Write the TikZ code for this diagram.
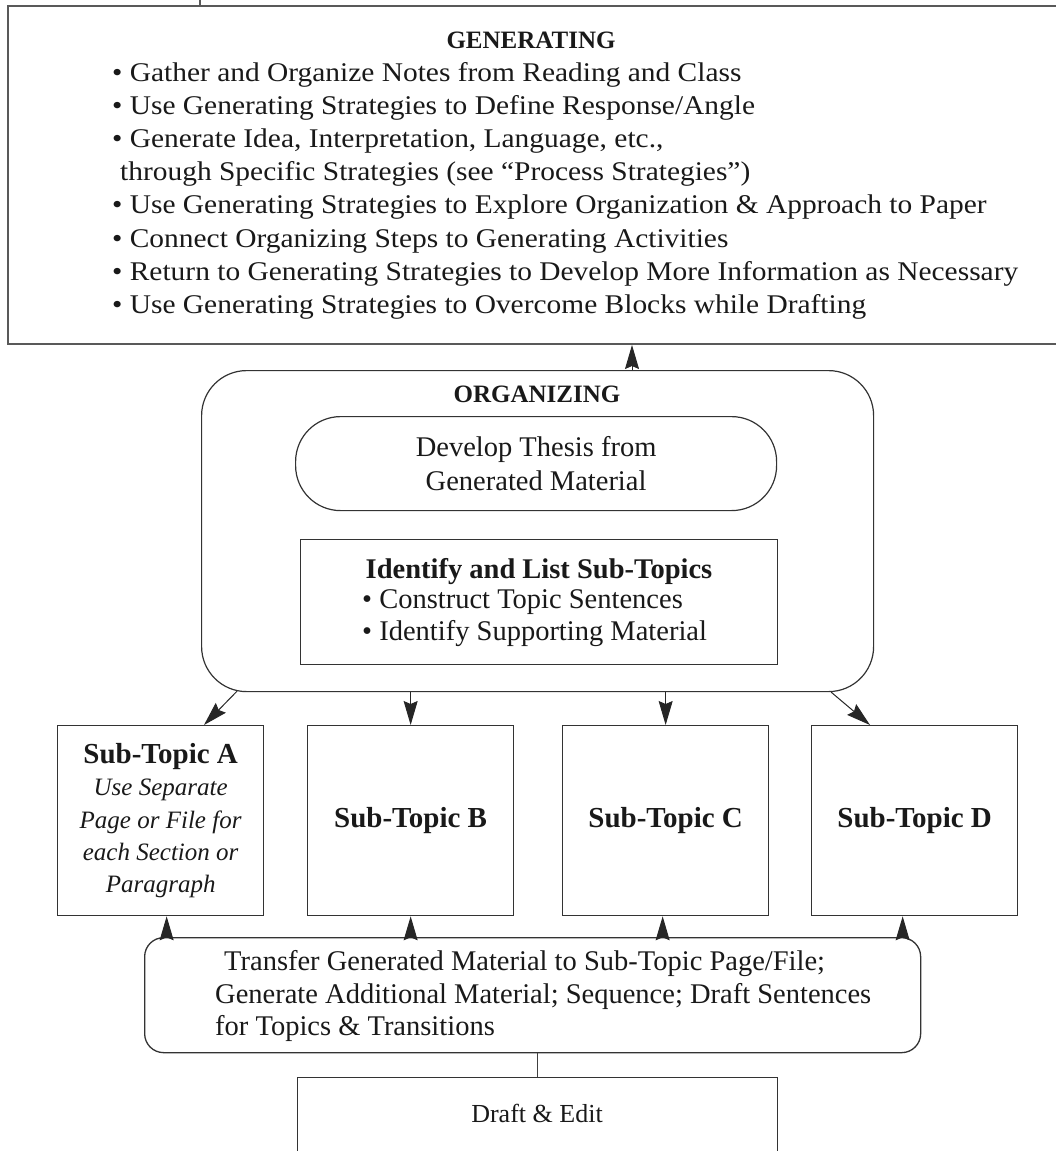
\documentclass[tikz,border=0pt]{standalone}
\usepackage{fontspec}
\setmainfont{Liberation Serif}
\newfontfamily\widefont{Liberation Serif}[FakeStretch=1.09]
\usetikzlibrary{arrows.meta,calc}
\begin{document}
\begin{tikzpicture}[x=1pt,y=-1pt,
  every node/.style={font=\fontsize{25}{33.3}\selectfont, inner sep=0pt, text=black!90},
  gtext/.style={font=\widefont\fontsize{27}{33.3}\selectfont},
  ctext/.style={font=\fontsize{28.5}{34}\selectfont},
  stext/.style={font=\fontsize{25}{32.3}\selectfont},
  box/.style={draw=black!80, line width=1.3pt},
  arr/.style={draw=black!85, line width=1pt, -{Stealth[length=24pt,width=14pt,inset=3pt]}},
  conn/.style={draw=black!75, line width=1pt},
]
\useasboundingbox (0,0) rectangle (1056,1151);

% GENERATING
\node[box, draw=black!65, line width=2pt, minimum width=1063pt, minimum height=338pt, anchor=north west] (gen) at (7,5) {};
\draw[draw=black!65, line width=1.5pt] ($(gen.north west)+(193,0)$) coordinate (tk) -- ++(0,-6);
\node[anchor=base] (gent) at (531,48) {\textbf{GENERATING}};
\node[gtext, anchor=base west] (g1) at (112,81) {• Gather and Organize Notes from Reading and Class};
\node[gtext, anchor=base west] (g2) at (112,114.2) {• Use Generating Strategies to Define Response/Angle};
\node[gtext, anchor=base west] (g3) at (112,147.4) {• Generate Idea, Interpretation, Language, etc.,};
\node[gtext, anchor=base west] (g4) at (120,180.6) {through Specific Strategies (see “Process Strategies”)};
\node[gtext, anchor=base west] (g5) at (112,213.8) {• Use Generating Strategies to Explore Organization \& Approach to Paper};
\node[gtext, anchor=base west] (g6) at (112,247) {• Connect Organizing Steps to Generating Activities};
\node[gtext, anchor=base west] (g7) at (112,280.2) {• Return to Generating Strategies to Develop More Information as Necessary};
\node[gtext, anchor=base west] (g8) at (112,313.4) {• Use Generating Strategies to Overcome Blocks while Drafting};

% ORGANIZING
\node[box, line width=1.2pt, rounded corners=45pt, minimum width=672pt, minimum height=321pt, anchor=north west] (org) at (201,370) {};
\node[anchor=base] (orgt) at (537,402) {\textbf{ORGANIZING}};
\node[box, line width=1.2pt, rounded corners=45pt, minimum width=481pt, minimum height=94pt, anchor=north west] (thesis) at (295,416) {};
\node[ctext, align=center] (thesist) at (thesis.center) {Develop Thesis from\\Generated Material};
\node[box, minimum width=477pt, minimum height=125pt, anchor=north west] (ident) at (300,539) {};
\node[ctext, anchor=base] (it) at (539,578) {\textbf{Identify and List Sub-Topics}};
\node[ctext, anchor=base west] (i1) at (362,608) {• Construct Topic Sentences};
\node[ctext, anchor=base west] (i2) at (362,640) {• Identify Supporting Material};

\coordinate (ot) at ($(org.north west)+(431,0)$);
\draw[arr] (ot) -- (ot |- gen.south);

% SUB-TOPICS
\node[box, stext, minimum width=206pt, minimum height=190pt, anchor=north west, align=center] (subA) at (57,725)
  {{\fontsize{29}{32.3}\selectfont\textbf{Sub-Topic A}}\\\textit{Use Separate}\\\textit{Page or File for}\\\textit{each Section or}\\\textit{Paragraph}};
\node[box, font=\fontsize{29}{33}\selectfont, minimum width=206pt, minimum height=190pt, anchor=north west] (subB) at (307,725) {\textbf{Sub-Topic B}};
\node[box, font=\fontsize{29}{33}\selectfont, minimum width=206pt, minimum height=190pt, anchor=north west] (subC) at (562,725) {\textbf{Sub-Topic C}};
\node[box, font=\fontsize{29}{33}\selectfont, minimum width=206pt, minimum height=190pt, anchor=north west] (subD) at (811,725) {\textbf{Sub-Topic D}};

\draw[arr] ($(org.south west)+(36,-1)$) -- ($(subA.north west)+(147,0)$);
\draw[arr] (subB.north |- org.south) -- (subB.north);
\draw[arr] (subC.north |- org.south) -- (subC.north);
\draw[arr] ($(org.south east)+(-43,0)$) -- ($(subD.north west)+(59,0)$);

% TRANSFER
\node[box, rounded corners=19pt, minimum width=776pt, minimum height=115pt, anchor=north west] (trans) at (144,937) {};
\node[ctext, anchor=base west] (t1) at (224,970) {Transfer Generated Material to Sub-Topic Page/File;};
\node[ctext, anchor=base west] (t2) at (215,1003) {Generate Additional Material; Sequence; Draft Sentences};
\node[ctext, anchor=base west] (t3) at (215,1035) {for Topics \& Transitions};

\coordinate (aA) at ($(subA.south)+(6,0)$);
\coordinate (aB) at (subB.south);
\coordinate (aC) at ($(subC.south)+(-3,0)$);
\coordinate (aD) at ($(subD.south)+(-12,0)$);
\draw[arr] (aA |- trans.north) -- (aA);
\draw[arr] (aB |- trans.north) -- (aB);
\draw[arr] (aC |- trans.north) -- (aC);
\draw[arr] (aD |- trans.north) -- (aD);

% DRAFT
\node[box, minimum width=480pt, minimum height=100pt, anchor=north west] (draft) at (297,1077) {};
\node[font=\fontsize{26}{30}\selectfont] (dt) at (537,1113) {Draft \& Edit};
\draw[conn] (trans.south -| draft.north) -- (draft.north);
\end{tikzpicture}
\end{document}
